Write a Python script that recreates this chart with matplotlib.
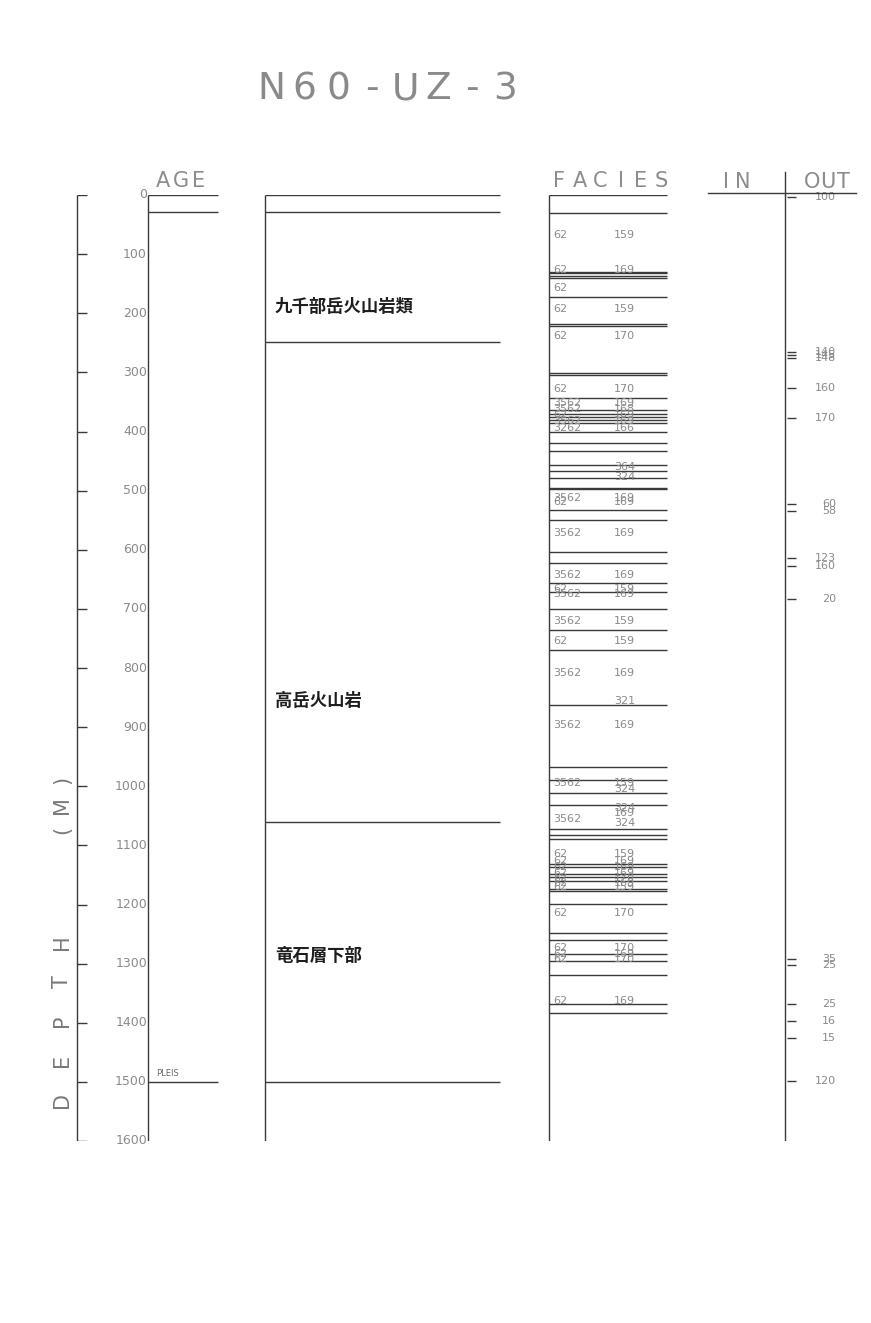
import numpy as np
import matplotlib.pyplot as plt

plt.rcParams['font.family'] = ['DejaVu Sans', 'Noto Sans CJK JP']

title = "N60-UZ-3"
depth_ticks = list(range(0, 1700, 100))

age_bounds = [0, 28, 1500]
age_names = ["", "", "PLEIS"]

litho_bounds = [0, 28, 249, 1061, 1500]
litho_names = ["九千部岳火山岩類", "高岳火山岩", "竜石層下部"]
litho_name_depths = [190, 855, 1287]

facies_bounds = [0, 30, 130, 132, 137, 141, 173, 218, 222, 301, 305, 344, 364, 371,
                 376, 381, 386, 400, 420, 433, 457, 467, 479, 496, 498, 533, 550,
                 603, 623, 657, 672, 701, 735, 770, 863, 968, 990, 1011, 1031, 1073,
                 1082, 1089, 1131, 1136, 1148, 1153, 1160, 1173, 1178, 1199, 1248,
                 1260, 1283, 1295, 1320, 1368, 1383]
facies_depths = [68, 127, 157, 193, 239, 328, 352, 362, 372, 382, 394, 460, 477, 513,
                 520, 572, 642, 667, 674, 721, 755, 808, 855, 896, 995, 1004, 1036,
                 1045, 1055, 1063, 1114, 1126, 1136, 1146, 1156, 1163, 1170, 1214,
                 1273, 1283, 1292, 1363]
facies_code = ["62", "62", "62", "62", "62", "62", "3562", "3562", "62", "3562", "3262",
               "", "", "3562", "62", "3562", "3562", "62", "3562", "3562", "62", "3562",
               "", "3562", "3562", "", "", "", "3562", "", "62", "62", "62", "62", "62",
               "62", "62", "62", "62", "62", "62", "62"]
facies_id = ["159", "169", "", "159", "170", "170", "169", "168", "169", "169", "166",
             "364", "324", "169", "169", "169", "169", "159", "169", "159", "159", "169",
             "321", "169", "159", "324", "324", "169", "", "324", "159", "169", "169",
             "169", "170", "169", "159", "170", "170", "169", "170", "169"]

out_depths = [3, 266, 271, 276, 327, 378, 523, 535, 614, 628, 684,
              1292, 1302, 1368, 1397, 1425, 1498]
out_labels = ["100", "140", "145", "148", "160", "170", "60", "58", "123", "160", "20",
              "35", "25", "25", "16", "15", "120"]

W, H = 871, 1323
fig = plt.figure(figsize=(W / 100, H / 100), dpi=100)
y_top, y_bot = 195, 1141   # pixel rows of depth 0 and 1600
ax = fig.add_axes([0, 1 - y_bot / H, 1, (y_bot - y_top) / H])
ax.set_xlim(0, W)
ax.set_ylim(1600, 0)
ax.axis('off')

lc = '#3a3a3a'
tc = '#8a8a8a'
hc = '#8c8c8c'

def fx(x):
    return x / W

def fy(y):
    return 1 - y / H

def spaced(text, x0, y, pitch, size, rot=0, color=hc):
    # plotter style lettering with a fixed pitch
    for k, ch in enumerate(text):
        if rot:
            fig.text(fx(x0), fy(y - k * pitch), ch, fontsize=size, color=color,
                     rotation=90, ha='center', va='center')
        else:
            fig.text(fx(x0 + k * pitch), fy(y), ch, fontsize=size, color=color,
                     ha='center', va='center')

spaced(title, 271, 89, 33.5, 27, color='#8a8a8a')

# depth scale
ax.vlines(77, 0, 1600, color=lc, lw=1)
ax.hlines(depth_ticks, 77, 87, color=lc, lw=1)
for d in depth_ticks:
    ax.text(147, d, str(d), fontsize=9, color=tc, ha='right', va='center')
spaced("DEPTH", 62, 1100, 39.5, 15, rot=90, color='#7a7a7a')
spaced("(M)", 62, 830, 25, 15, rot=90, color='#7a7a7a')

# age column
spaced("AGE", 163, 181, 18, 15)
ax.vlines(148, 0, 1600, color=lc, lw=1)
ax.hlines(age_bounds, 148, 218, color=lc, lw=1)
for d, s in zip(age_bounds, age_names):
    if s:
        ax.text(156, d - 7, s, fontsize=6, color='#666666', va='bottom')

# lithology column
ax.vlines(265, 0, 1600, color=lc, lw=1)
ax.hlines(litho_bounds, 265, 500, color=lc, lw=1)
for d, s in zip(litho_name_depths, litho_names):
    ax.text(275, d, s, fontsize=12.5, color='#1e1e1e', va='center',
            family=['Noto Sans CJK JP'], fontweight='bold')

# facies column
spaced("FACIES", 559, 181, 20.5, 15)
ax.vlines(549, 0, 1600, color=lc, lw=1)
ax.hlines(facies_bounds, 549, 667, color=lc, lw=1)
for d, c, i in zip(facies_depths, facies_code, facies_id):
    ax.text(553, d, c, fontsize=8, color=tc, va='center')
    ax.text(614, d, i, fontsize=8, color=tc, va='center')

# in / out
spaced("IN", 726, 182, 17, 15)
spaced("OUT", 812, 182, 15.5, 15)
fig.add_artist(plt.Line2D([fx(708), fx(856)], [fy(193), fy(193)], color=lc, lw=1))
fig.add_artist(plt.Line2D([fx(785), fx(785)], [fy(172), fy(195)], color=lc, lw=1))
ax.vlines(785, 0, 1600, color=lc, lw=1)
ax.hlines(out_depths, 787, 796, color=lc, lw=1)
for d, s in zip(out_depths, out_labels):
    ax.text(836, d, s, fontsize=8, color=tc, va='center', ha='right')

fig.savefig("out.png", dpi=100, facecolor='white')
